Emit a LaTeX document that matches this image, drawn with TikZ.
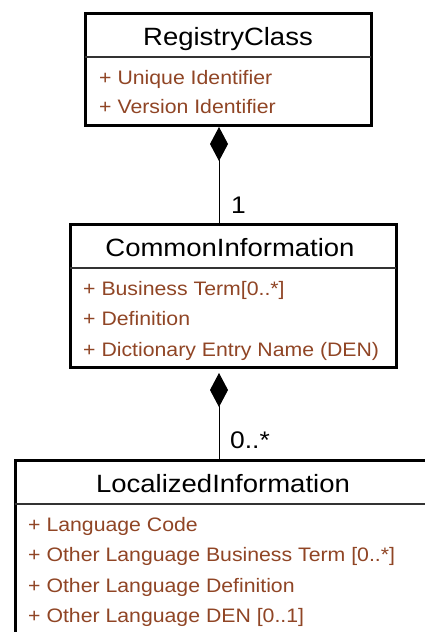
\documentclass[tikz,border=0pt]{standalone}
\usepackage{fontspec}
\setmainfont{Liberation Sans}
\newfontfamily\umltitle[FakeStretch=1.1]{Liberation Sans}
\newfontfamily\umlattr[FakeStretch=1.09]{Liberation Sans}
\usetikzlibrary{arrows.meta}
\definecolor{attrred}{HTML}{904525}
\definecolor{sepgray}{HTML}{333333}

\begin{document}
\begin{tikzpicture}[x=1pt,y=-1pt,
  classbox/.style={draw=black, line width=3pt, fill=white, rectangle,
    inner sep=0pt, outer sep=0pt, anchor=north west},
  classtitle/.style={font=\umltitle\fontsize{25}{25}\selectfont, anchor=base, inner sep=0pt},
  attr/.style={font=\umlattr\fontsize{19.5}{19.5}\selectfont, text=attrred,
    anchor=base west, inner sep=0pt},
  mult/.style={font=\umltitle\fontsize{24}{24}\selectfont, anchor=base west, inner sep=0pt},
  sepline/.style={draw=sepgray, line width=1.2pt},
  composition/.style={draw=black, line width=1pt,
    {Diamond[length=34pt,width=18pt,fill=black]}-}
]
\useasboundingbox (0,0) rectangle (425,632);
\fill[white] (0,0) rectangle (425,632);
\clip (0,0) rectangle (425,632);

% vertical axis shared by the two compositions
\coordinate (axis) at (219,0);

% RegistryClass
\node[classbox, minimum width=286pt, minimum height=112pt] (rc) at (85,13) {};
\draw[sepline] (rc.west |- 0,57) -- (rc.east |- 0,57);
\node[classtitle] (rctitle) at (228,45) {RegistryClass};
\node[attr] (rca1) at (99,84) {+ Unique Identifier};
\node[attr] (rca2) at (99,113) {+ Version Identifier};

% CommonInformation
\node[classbox, minimum width=326pt, minimum height=143pt] (ci) at (70,224) {};
\draw[sepline] (ci.west |- 0,268) -- (ci.east |- 0,268);
\node[classtitle] (cititle) at (230,256) {CommonInformation};
\node[attr] (cia1) at (83,295) {+ Business Term[0..*]};
\node[attr] (cia2) at (83,325.5) {+ Definition};
\node[attr] (cia3) at (83,356) {+ Dictionary Entry Name (DEN)};

% LocalizedInformation (runs past the right and bottom edges)
\node[classbox, minimum width=420pt, minimum height=200pt] (li) at (15,460) {};
\draw[sepline] (li.west |- 0,504) -- (li.east |- 0,504);
\node[classtitle] (lititle) at (223,492) {LocalizedInformation};
\node[attr] (lia1) at (28,531) {+ Language Code};
\node[attr] (lia2) at (28,561.5) {+ Other Language Business Term [0..*]};
\node[attr] (lia3) at (28,592) {+ Other Language Definition};
\node[attr] (lia4) at (28,622.5) {+ Other Language DEN [0..1]};

% compositions
\draw[composition, shorten <=2pt] (rc.south -| axis) -- (ci.north -| axis);
\node[mult] (m1) at (231,213) {1};
\draw[composition, shorten <=6pt] (ci.south -| axis) -- (li.north -| axis);
\node[mult] (m2) at (230,448) {0..*};
\end{tikzpicture}
\end{document}
